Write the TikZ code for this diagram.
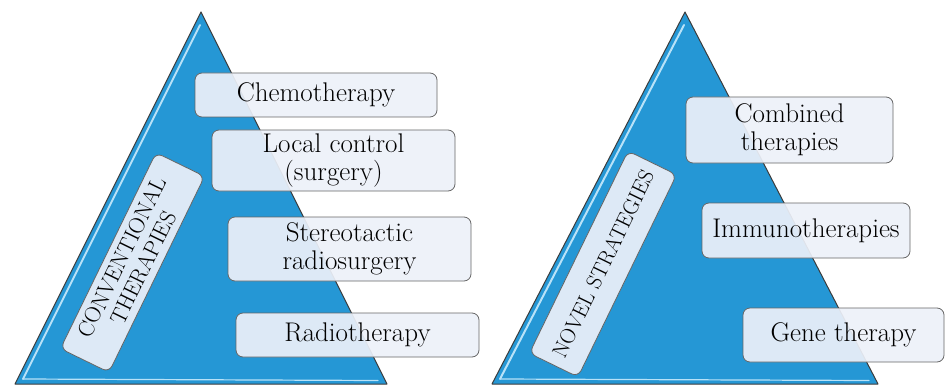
\documentclass[tikz,border=0pt]{standalone}
\usepackage{fontspec}
\usepackage{tikz}
\definecolor{pyramid}{HTML}{2597D5}
\definecolor{gloss}{HTML}{B8E2F8}
\definecolor{tierfill}{HTML}{EDF1F9}
\definecolor{edge}{HTML}{3C3C3C}

\begin{document}
\begin{tikzpicture}[
  x=1pt, y=-1pt,
  tier/.style={
    rectangle, rounded corners=7pt, draw=black!60, line width=0.8pt,
    fill=tierfill, fill opacity=0.92, text opacity=1, inner sep=2pt,
    align=center, font=\fontsize{27}{28}\selectfont
  },
  band/.style={tier, rotate=64, minimum height=54pt, font=\fontsize{22.5}{24}\selectfont},
  face/.style={fill=pyramid, draw=edge, line width=1pt, line join=round},
  shine/.style={draw=gloss, line width=2pt, line cap=round}
]
  \useasboundingbox (0,0) rectangle (945,385);

  % left pyramid
  \coordinate (lTop) at (201,12);
  \coordinate (lLeft) at (15,384);
  \coordinate (lRight) at (387,384);
  \draw[face] (lLeft) -- (lTop) -- (lRight) -- cycle;
  \coordinate (lShineA) at (23,379);
  \coordinate (lShineB) at (200,25);
  \coordinate (lShineC) at (378,380.5);
  \draw[shine] (lShineA) -- (lShineB);
  \draw[shine, line width=1.2pt] (lShineA) -- (lShineC);

  % right pyramid
  \coordinate (rTop) at (685,12);
  \coordinate (rLeft) at (492,384);
  \coordinate (rRight) at (878,384);
  \draw[face] (rLeft) -- (rTop) -- (rRight) -- cycle;
  \coordinate (rShineA) at (500,379);
  \coordinate (rShineB) at (684,25);
  \coordinate (rShineC) at (869,380.5);
  \draw[shine] (rShineA) -- (rShineB);
  \draw[shine, line width=1.2pt] (rShineA) -- (rShineC);

  \node[tier, minimum width=242pt, minimum height=44pt] (chemo) at (316,95) {Chemotherapy};
  \node[tier, minimum width=243pt, minimum height=61pt] (local) at (333.5,160.5) {Local control\\(surgery)};
  \node[tier, minimum width=243pt, minimum height=64pt] (stereo) at (349.5,249) {Stereotactic\\radiosurgery};
  \node[tier, minimum width=243pt, minimum height=44pt] (radio) at (357.5,335) {Radiotherapy};
  \node[band, minimum width=218pt] (conv) at (132.5,262.5) {CONVENTIONAL\\THERAPIES};

  \node[tier, minimum width=207pt, minimum height=66pt] (comb) at (789.5,130) {Combined\\therapies};
  \node[tier, minimum width=208pt, minimum height=55pt] (immuno) at (806,230.5) {Immunotherapies};
  \node[tier, minimum width=201pt, minimum height=54pt] (gene) at (843.5,335) {Gene therapy};
  \node[band, minimum width=225pt, font=\fontsize{21.5}{24}\selectfont] (novel) at (603,264) {NOVEL STRATEGIES};
\end{tikzpicture}
\end{document}
